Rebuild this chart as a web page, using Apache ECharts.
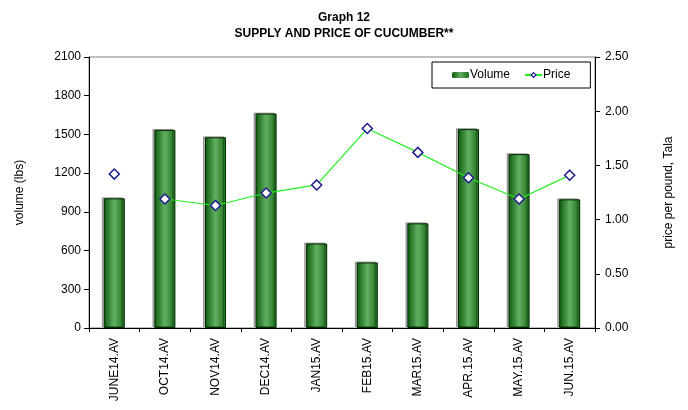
<!DOCTYPE html>
<html>
<head>
<meta charset="utf-8">
<script src="https://cdn.jsdelivr.net/npm/echarts@6/dist/echarts.min.js"></script>
<style>
  html, body { margin: 0; padding: 0; background: #fff; }
  #chart { width: 688px; height: 410px; }
</style>
</head>
<body>
<div id="chart"></div>
<script>
// data
var months = ['JUNE14.AV', 'OCT14.AV', 'NOV14.AV', 'DEC14.AV', 'JAN15.AV', 'FEB15.AV', 'MAR15.AV', 'APR.15.AV', 'MAY.15.AV', 'JUN.15.AV'];
var volume = [1005, 1535, 1478, 1662, 655, 508, 811, 1541, 1347, 997];
var price = [1.42, 1.19, 1.13, 1.245, 1.32, 1.84, 1.62, 1.386, 1.19, 1.41];

// first price point stands alone in the original (no line to OCT14)
var priceLine = price.map(function (v, i) { return i === 0 ? null : v; });
var priceFirst = price.map(function (v, i) { return i === 0 ? v : null; });

var FONT = 'Liberation Sans, Arial, sans-serif';

var chart = echarts.init(document.getElementById('chart'));

var barColor = new echarts.graphic.LinearGradient(0, 0, 1, 0, [
  { offset: 0, color: '#0c5a0c' },
  { offset: 0.5, color: '#62b062' },
  { offset: 1, color: '#1a6c1a' }
]);

var diamond = {
  symbol: 'diamond',
  symbolSize: 10,
  itemStyle: { color: '#ffffff', borderColor: '#1c1c8c', borderWidth: 1.5 }
};

chart.setOption({
  animation: false,
  textStyle: { fontFamily: FONT },
  title: {
    text: 'Graph 12\nSUPPLY AND PRICE OF CUCUMBER**',
    left: 'center',
    top: 5,
    textStyle: { fontSize: 12, fontWeight: 'bold', color: '#000', lineHeight: 16, fontFamily: FONT }
  },
  legend: {
    data: [
      { name: 'Volume', itemStyle: { borderWidth: 0 } },
      { name: 'Price', itemStyle: { borderWidth: 1.2 } }
    ],
    left: 432,
    top: 62,
    padding: [7, 20, 7, 20],
    itemGap: 14,
    itemWidth: 17,
    itemHeight: 6,
    borderColor: '#000',
    borderWidth: 1,
    backgroundColor: '#fff',
    textStyle: { fontSize: 12, color: '#000', padding: [0, 0, 0, -4] }
  },
  grid: {
    left: 89,
    right: 93,
    top: 57,
    bottom: 82,
    show: true,
    borderColor: '#808080',
    borderWidth: 1
  },
  xAxis: {
    type: 'category',
    data: months,
    axisLine: { lineStyle: { color: '#000' } },
    axisTick: { show: true, length: 4, inside: false, lineStyle: { color: '#000' } },
    axisLabel: { rotate: 90, color: '#000', fontSize: 12, margin: 10, interval: 0 }
  },
  yAxis: [
    {
      type: 'value',
      min: 0,
      max: 2100,
      interval: 300,
      name: 'volume (lbs)',
      nameLocation: 'middle',
      nameRotate: 90,
      nameGap: 63,
      nameTextStyle: { fontSize: 12, color: '#000' },
      splitLine: { show: false },
      axisLine: { show: true, lineStyle: { color: '#000' } },
      axisTick: { show: true, length: 5, lineStyle: { color: '#000' } },
      axisLabel: {
        color: '#000',
        fontSize: 12,
        margin: 8,
        formatter: function (v) { return String(v); }
      }
    },
    {
      type: 'value',
      min: 0,
      max: 2.5,
      interval: 0.5,
      position: 'right',
      name: 'price per pound, Tala',
      nameLocation: 'middle',
      nameRotate: 90,
      nameGap: 68,
      nameTextStyle: { fontSize: 12, color: '#000' },
      splitLine: { show: false },
      axisLine: { show: true, lineStyle: { color: '#000' } },
      axisTick: { show: true, length: 5, lineStyle: { color: '#000' } },
      axisLabel: {
        color: '#000',
        fontSize: 12,
        margin: 10,
        formatter: function (v) { return v.toFixed(2); }
      }
    }
  ],
  series: [
    {
      name: 'Volume',
      type: 'bar',
      data: volume,
      barWidth: 21,
      itemStyle: {
        color: barColor,
        borderColor: '#002a00',
        borderWidth: 1,
        shadowColor: 'rgba(0,0,0,0.3)',
        shadowOffsetX: -2,
        shadowOffsetY: -1,
        shadowBlur: 0
      }
    },
    Object.assign({
      name: 'Price',
      type: 'line',
      yAxisIndex: 1,
      data: priceLine,
      lineStyle: { color: '#22ee22', width: 1.2 },
      z: 5
    }, diamond),
    Object.assign({
      name: 'Price',
      type: 'line',
      yAxisIndex: 1,
      data: priceFirst,
      lineStyle: { color: '#22ee22', width: 1.2 },
      z: 5
    }, diamond)
  ]
});
</script>
</body>
</html>
